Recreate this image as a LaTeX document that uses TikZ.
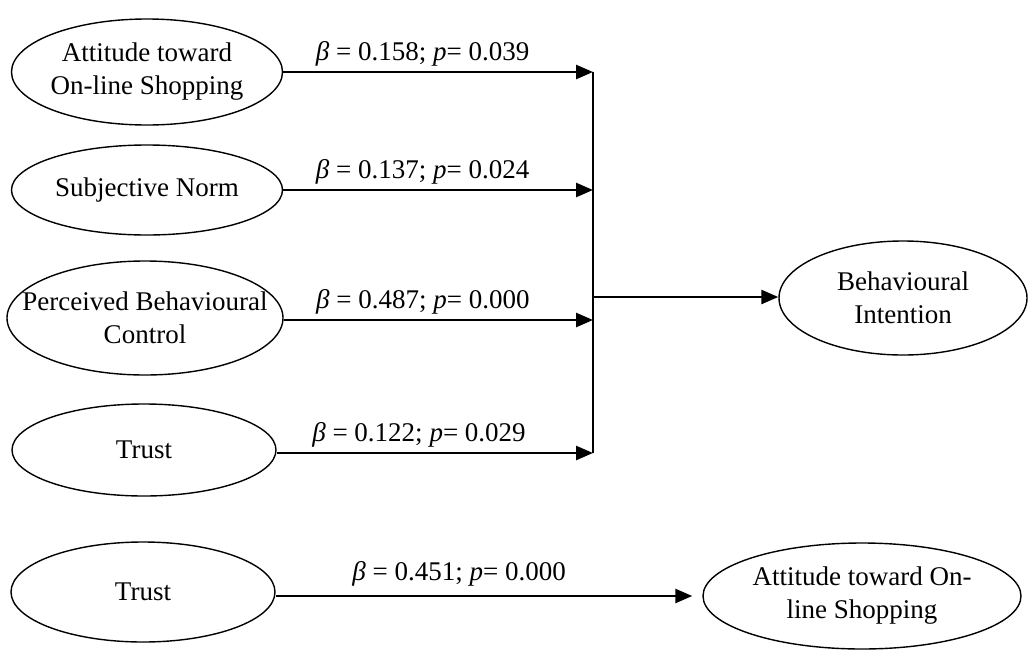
\documentclass[tikz,border=0pt]{standalone}
\usepackage{fontspec}
\setmainfont{Liberation Serif}
\usetikzlibrary{shapes.geometric,arrows.meta}
\tikzset{
  construct/.style={draw, ellipse, line width=1.4pt, inner sep=0pt},
  ctext/.style={align=center, inner sep=0pt, font=\fontsize{27}{33}\selectfont},
  path/.style={line width=2.6pt, -{Triangle[length=17pt,width=14pt]}},
  coef/.style={font=\fontsize{27}{32}\selectfont, above, inner sep=4pt},
}
\newcommand{\coefl}[2]{\textit{β} = #1; \textit{p}= #2}
\begin{document}
\begin{tikzpicture}[x=1pt,y=-1pt]
\useasboundingbox (0,0) rectangle (1028,651);
\node[construct, minimum width=271pt, minimum height=106pt] (att1) at (147,72) {};
\node[ctext] (att1t) at (att1.center) {Attitude toward\\On-line Shopping};
\node[construct, minimum width=271pt, minimum height=90pt] (sn) at (147,190) {};
\node[ctext] (snt) at (sn.center) {Subjective Norm};
\node[construct, minimum width=276pt, minimum height=114pt] (pbc) at (145,318) {};
\node[ctext] (pbct) at (pbc.center) {Perceived Behavioural\\Control};
\node[construct, minimum width=264pt, minimum height=92pt] (tr1) at (144,450) {};
\node[ctext] (tr1t) at (tr1.center) {Trust};
\node[construct, minimum width=248pt, minimum height=114pt] (bi) at (903,298) {};
\node[ctext] (bit) at (bi.center) {Behavioural\\Intention};
\node[construct, minimum width=264pt, minimum height=100pt] (tr2) at (143,592) {};
\node[ctext] (tr2t) at (tr2.center) {Trust};
\node[construct, minimum width=318pt, minimum height=106pt] (att2) at (862,596) {};
\node[ctext] (att2t) at (att2.center) {Attitude toward On-\\line Shopping};
\coordinate (j1) at (593,72);
\coordinate (j2) at (593,190);
\coordinate (j3) at (593,320);
\coordinate (j4) at (593,453);
\coordinate (jm) at (593,297);
\draw[line width=2.4pt] (j1) -- (j4);
\draw[path] (att1.east |- j1) -- node[coef, pos=0.45]{\coefl{0.158}{0.039}} (j1);
\draw[path] (sn.east |- j2) -- node[coef, pos=0.45]{\coefl{0.137}{0.024}} (j2);
\draw[path] (pbc.east |- j3) -- node[coef, pos=0.45]{\coefl{0.487}{0.000}} (j3);
\draw[path] (tr1.east |- j4) -- node[coef, pos=0.45]{\coefl{0.122}{0.029}} (j4);
\draw[path] (jm) -- (bi.west |- jm);
\draw[path, shorten >=10pt] (tr2.east |- att2.west) -- node[coef, pos=0.43, yshift=4pt]{\coefl{0.451}{0.000}} (att2.west);
\end{tikzpicture}
\end{document}
